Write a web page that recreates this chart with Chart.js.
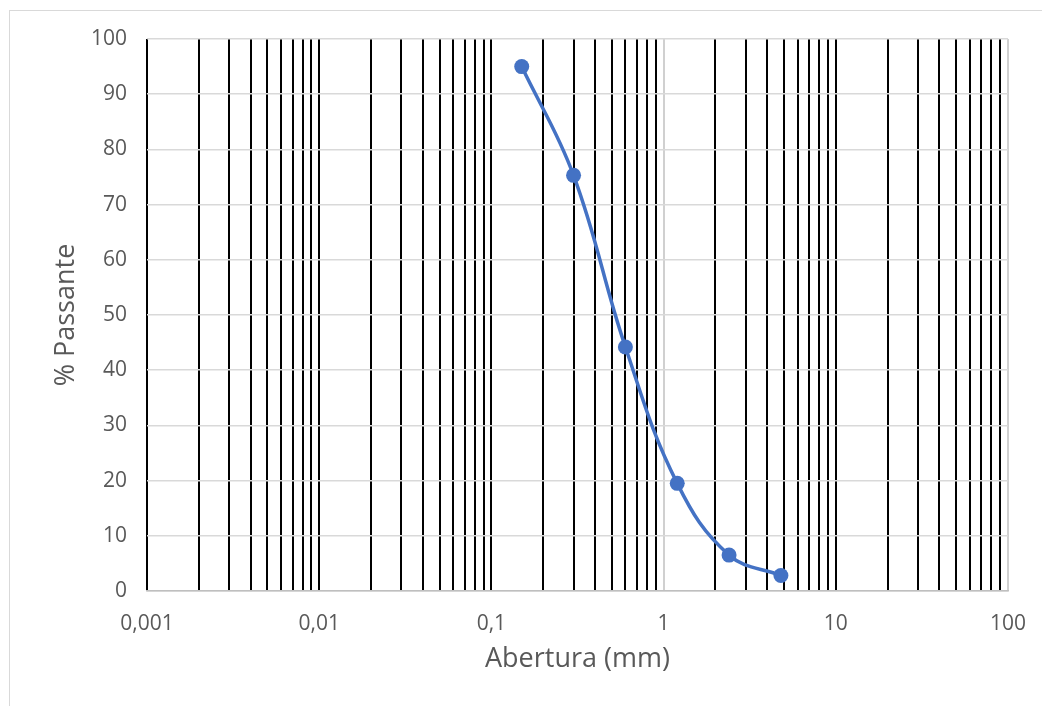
<!DOCTYPE html>
<html>
<head>
<meta charset="utf-8">
<title>Curva granulométrica</title>
<script src="https://cdn.jsdelivr.net/npm/chart.js@4.4.1/dist/chart.umd.min.js"></script>
<style>
    html, body { margin: 0; padding: 0; background: #fff; }
    #wrap { position: relative; width: 1042px; height: 706px; overflow: hidden; }
    #frame {
        position: absolute; left: 9px; top: 10px; width: 1100px; height: 800px;
        border-left: 1px solid #d9d9d9; border-top: 1px solid #d9d9d9;
    }
    #chart { position: absolute; left: 0; top: 0; }
</style>
</head>
<body>
<div id="wrap">
    <div id="frame"></div>
    <canvas id="chart" width="1042" height="706"></canvas>
</div>
<script>
// --- Data ---
const aberturas = [0.15, 0.3, 0.6, 1.2, 2.4, 4.8];      // mm
const passante = [95, 75.3, 44.2, 19.5, 6.5, 2.8];      // %

// --- Axis ticks ---
const decades = [0.001, 0.01, 0.1, 1, 10, 100];
const decadeLabels = ['0,001', '0,01', '0,1', '1', '10', '100'];
const minorSteps = [2, 3, 4, 5, 6, 7, 8, 9];
const greyLines = [1, 100];   // verticals that stay light grey
const yTicks = [0, 10, 20, 30, 40, 50, 60, 70, 80, 90, 100];

const FONT = '"Open Sans", "Noto Sans", sans-serif';
const TEXT = '#595959';

const close = (a, b) => Math.abs(a - b) < b * 1e-6;

const xTickValues = [];
decades.forEach((d, i) => {
    xTickValues.push({ value: d, label: decadeLabels[i] });
    if (i < decades.length - 1) {
        minorSteps.forEach(m => xTickValues.push({ value: m * d, label: '' }));
    }
});

new Chart(document.getElementById('chart'), {
    type: 'line',
    data: {
        datasets: [{
            data: aberturas.map((x, i) => ({ x: x, y: passante[i] })),
            borderColor: '#4472C4',
            backgroundColor: '#4472C4',
            borderWidth: 3.5,
            pointRadius: 7.5,
            pointHoverRadius: 7.5,
            pointBorderWidth: 0,
            pointBackgroundColor: '#4472C4',
            tension: 0.4,
            fill: false
        }]
    },
    options: {
        responsive: false,
        animation: false,
        events: [],
        layout: { padding: { left: 0, top: 39, right: 34, bottom: 0 } },
        plugins: {
            legend: { display: false },
            tooltip: { enabled: false }
        },
        scales: {
            x: {
                type: 'logarithmic',
                min: 0.001,
                max: 100,
                afterBuildTicks: (scale) => {
                    scale.ticks = xTickValues.map(t => ({ value: t.value, major: false }));
                },
                afterFit: (scale) => {
                    scale.height = 115;
                    scale.paddingLeft = 0;
                    scale.paddingRight = 0;
                },
                ticks: {
                    autoSkip: false,
                    maxRotation: 0,
                    padding: 20,
                    color: TEXT,
                    font: { family: FONT, size: 21 },
                    callback: (value) => {
                        const t = xTickValues.find(t => close(value, t.value));
                        return t ? t.label : '';
                    }
                },
                grid: {
                    drawTicks: false,
                    lineWidth: 2,
                    color: (ctx) => {
                        const v = ctx.tick ? ctx.tick.value : 0;
                        return greyLines.some(g => close(v, g)) ? '#d0d0d0' : '#000000';
                    }
                },
                border: { display: true, color: '#bfbfbf', width: 1.5 },
                title: {
                    display: true,
                    text: 'Abertura (mm)',
                    color: TEXT,
                    font: { family: FONT, size: 27 },
                    padding: { top: 0, bottom: 30 }
                }
            },
            y: {
                min: 0,
                max: 100,
                afterBuildTicks: (scale) => {
                    scale.ticks = yTicks.map(v => ({ value: v }));
                },
                afterFit: (scale) => { scale.width = 147; },
                ticks: {
                    padding: 20,
                    color: TEXT,
                    font: { family: FONT, size: 21 }
                },
                grid: {
                    drawTicks: false,
                    color: '#d9d9d9',
                    lineWidth: 1.5
                },
                border: { display: false },
                title: {
                    display: true,
                    text: '% Passante',
                    color: TEXT,
                    font: { family: FONT, size: 27 },
                    padding: { top: 50, bottom: 0 }
                }
            }
        }
    }
});
</script>
</body>
</html>
